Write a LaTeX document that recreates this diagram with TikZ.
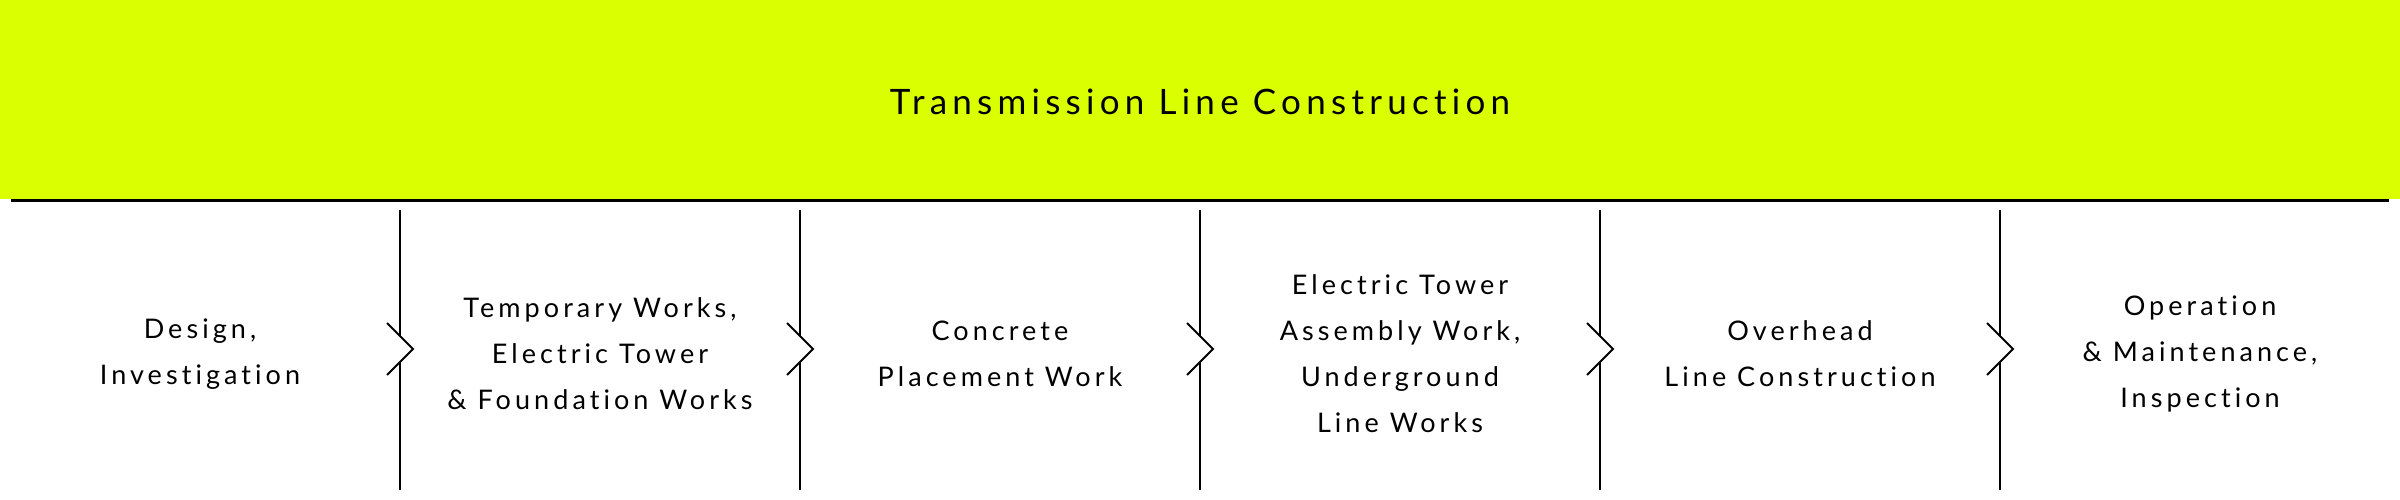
\documentclass[tikz,border=0pt]{standalone}
\usepackage{fontspec}
\setmainfont{Lato}[LetterSpace=15,Ligatures=NoCommon]
\newfontfamily\titlefont{Lato}[LetterSpace=15,Ligatures=NoCommon]
\definecolor{lime}{HTML}{DAFF00}
\begin{document}
\begin{tikzpicture}[x=1pt,y=-1pt]
\tikzset{
  sepline/.style={line width=2pt,black},
  headline/.style={line width=3pt,black},
  steptext/.style={align=center,font=\fontsize{27}{46}\selectfont,inner sep=0pt},
  titletext/.style={font=\titlefont\fontsize{35}{42}\selectfont,inner sep=0pt,anchor=base}
}
\fill[lime] (0,0) rectangle (2400,199);
\useasboundingbox (0,0) rectangle (2400,500);
\node[titletext] (title) at (1200,115) {Transmission Line Construction};
\coordinate (hl) at (11,200);
\coordinate (hr) at (2389,200);
\draw[headline] (hl) -- (hr);
\node[steptext] (c1) at (200,354) {Design,\\Investigation};
\node[steptext] (c2) at (600,354) {Temporary Works,\\Electric Tower\\\& Foundation Works};
\node[steptext] (c3) at (1000,354) {Concrete\\Placement Work};
\node[steptext] (c4) at (1400,354) {Electric Tower\\Assembly Work,\\Underground\\Line Works};
\node[steptext] (c5) at (1800,354) {Overhead\\Line Construction};
\node[steptext] (c6) at (2200,354) {Operation\\\& Maintenance,\\Inspection};
\foreach \i in {1,...,5}{
  \pgfmathsetmacro{\xx}{400*\i}
  \coordinate (s\i t) at (\xx,210);
  \coordinate (s\i b) at (\xx,490);
  \coordinate (s\i u) at (\xx,336);
  \coordinate (s\i d) at (\xx,362);
  \coordinate (s\i tip) at (\xx+13,349);
  \coordinate (s\i a) at (\xx-13,323);
  \coordinate (s\i z) at (\xx-13,375);
  \draw[sepline] (s\i t) -- (s\i u);
  \draw[sepline] (s\i d) -- (s\i b);
  \draw[sepline] (s\i a) -- (s\i tip) -- (s\i z);
}
\end{tikzpicture}
\end{document}
